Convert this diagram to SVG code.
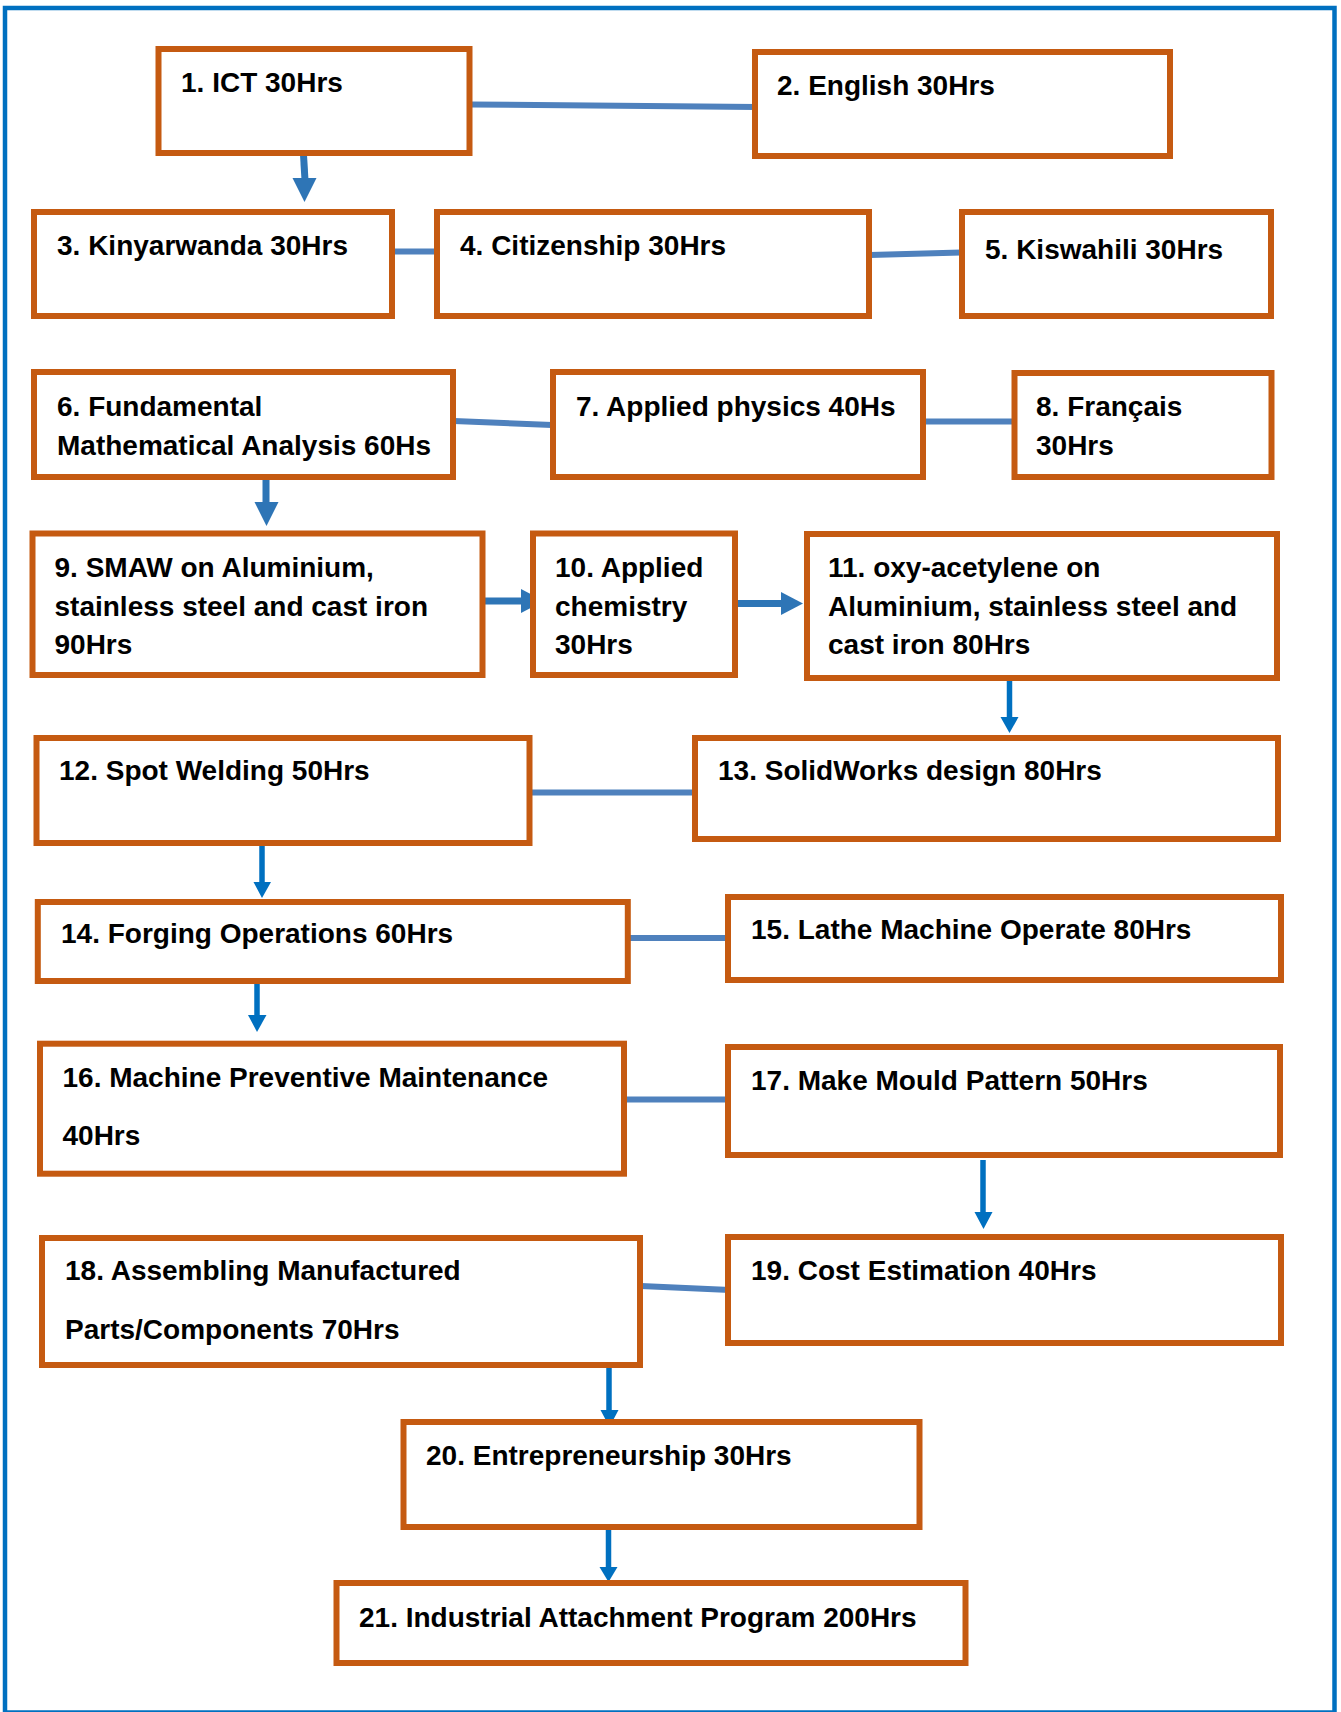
<svg xmlns="http://www.w3.org/2000/svg" width="1341" height="1712" viewBox="0 0 1341 1712">
<style>
.box{fill:#fff;stroke:#C55A11;stroke-width:6}
.t{font-family:"Liberation Sans",Arial,sans-serif;font-weight:bold;font-size:28px;fill:#000}
.ln{stroke:#4F81BD;stroke-width:6;fill:none}
.a1{stroke:#2E75B6;stroke-width:7;fill:none}
.h1{fill:#2E75B6}
.a2{stroke:#0070C0;stroke-width:5.5;fill:none}
.h2{fill:#0070C0}
</style>
<rect x="0" y="0" width="1341" height="1712" fill="#fff"/>
<rect x="5" y="8" width="1329.5" height="1704.5" fill="none" stroke="#0070C0" stroke-width="4.5"/>
<g id="connectors">
<line class="ln" x1="470" y1="104.5" x2="757" y2="107"/>
<line class="ln" x1="393" y1="251.5" x2="436" y2="251.5"/>
<line class="ln" x1="870" y1="255" x2="961" y2="252.5"/>
<line class="ln" x1="454" y1="421" x2="552" y2="425"/>
<line class="ln" x1="924" y1="421.5" x2="1013" y2="421.5"/>
<line class="ln" x1="530" y1="792.5" x2="694" y2="792.5"/>
<line class="ln" x1="629" y1="938" x2="727" y2="938"/>
<line class="ln" x1="625" y1="1099.5" x2="727" y2="1099.5"/>
<line class="ln" x1="641" y1="1286" x2="730" y2="1290"/>
<line class="a1" x1="303.5" y1="155" x2="305" y2="180"/>
<polygon class="h1" points="292.5,178 316.5,178 304.5,202"/>
<line class="a1" x1="266" y1="478" x2="266" y2="504"/>
<polygon class="h1" points="254.5,502 278.5,502 266.5,526"/>
<line class="a1" x1="484" y1="601" x2="525" y2="601"/>
<polygon class="h1" points="521,589 521,613 544,601"/>
<line class="a1" x1="736" y1="603.5" x2="783" y2="603.5"/>
<polygon class="h1" points="781,592 781,615 803,603.5"/>
<line class="a2" x1="1009.5" y1="679" x2="1009.5" y2="719"/>
<polygon class="h2" points="1000.5,717 1018.5,717 1009.5,733"/>
<line class="a2" x1="262" y1="844" x2="262" y2="884"/>
<polygon class="h2" points="253.5,882 271,882 262,898"/>
<line class="a2" x1="257" y1="982" x2="257" y2="1017"/>
<polygon class="h2" points="248,1015 266.5,1015 257,1032"/>
<line class="a2" x1="983" y1="1160" x2="983" y2="1214"/>
<polygon class="h2" points="974.5,1212 992.5,1212 983.5,1229"/>
<line class="a2" x1="609" y1="1366" x2="609" y2="1412"/>
<polygon class="h2" points="600.5,1410 618.5,1410 609.5,1427"/>
<line class="a2" x1="608.5" y1="1528" x2="608.5" y2="1569"/>
<polygon class="h2" points="599.5,1567 617.5,1567 608.5,1582"/>
</g>
<g id="n1"><rect class="box" x="158.5" y="49" width="311" height="104"/><text class="t" x="181" y="92">1. ICT 30Hrs</text></g>
<g id="n2"><rect class="box" x="755" y="52" width="415" height="104"/><text class="t" x="777" y="95">2. English 30Hrs</text></g>
<g id="n3"><rect class="box" x="34" y="212" width="358" height="104"/><text class="t" x="57" y="255">3. Kinyarwanda 30Hrs</text></g>
<g id="n4"><rect class="box" x="437" y="212" width="432" height="104"/><text class="t" x="460" y="255">4. Citizenship 30Hrs</text></g>
<g id="n5"><rect class="box" x="962" y="212" width="309" height="104"/><text class="t" x="985" y="259">5. Kiswahili 30Hrs</text></g>
<g id="n6"><rect class="box" x="34" y="372" width="419" height="105"/><text class="t" x="57" y="416">6. Fundamental</text><text class="t" x="57" y="455">Mathematical Analysis 60Hs</text></g>
<g id="n7"><rect class="box" x="553" y="372" width="370" height="105"/><text class="t" x="576" y="416">7. Applied physics 40Hs</text></g>
<g id="n8"><rect class="box" x="1014.5" y="373" width="257" height="104"/><text class="t" x="1036" y="416">8. Français</text><text class="t" x="1036" y="455">30Hrs</text></g>
<g id="n9"><rect class="box" x="32.5" y="533.5" width="450" height="141.5"/><text class="t" x="54.5" y="577">9. SMAW on Aluminium,</text><text class="t" x="54.5" y="616">stainless steel and cast iron</text><text class="t" x="54.5" y="654">90Hrs</text></g>
<g id="n10"><rect class="box" x="533" y="533.5" width="202" height="141.5"/><text class="t" x="555" y="577">10. Applied</text><text class="t" x="555" y="616">chemistry</text><text class="t" x="555" y="654">30Hrs</text></g>
<g id="n11"><rect class="box" x="807" y="534" width="470" height="144"/><text class="t" x="828" y="577">11. oxy-acetylene on</text><text class="t" x="828" y="616">Aluminium, stainless steel and</text><text class="t" x="828" y="654">cast iron 80Hrs</text></g>
<g id="n12"><rect class="box" x="36.5" y="738" width="493" height="105"/><text class="t" x="59" y="780">12. Spot Welding 50Hrs</text></g>
<g id="n13"><rect class="box" x="695" y="738" width="583" height="101"/><text class="t" x="718" y="780">13. SolidWorks design 80Hrs</text></g>
<g id="n14"><rect class="box" x="37.8" y="902" width="590" height="79"/><text class="t" x="61" y="943">14. Forging Operations 60Hrs</text></g>
<g id="n15"><rect class="box" x="728" y="897" width="553" height="83"/><text class="t" x="751" y="939">15. Lathe Machine Operate 80Hrs</text></g>
<g id="n16"><rect class="box" x="40" y="1043.7" width="584" height="130"/><text class="t" x="62.5" y="1087">16. Machine Preventive Maintenance</text><text class="t" x="62.5" y="1145">40Hrs</text></g>
<g id="n17"><rect class="box" x="728" y="1047" width="552" height="108"/><text class="t" x="751" y="1090">17. Make Mould Pattern 50Hrs</text></g>
<g id="n18"><rect class="box" x="42" y="1238" width="598" height="127"/><text class="t" x="65" y="1280">18. Assembling Manufactured</text><text class="t" x="65" y="1339">Parts/Components 70Hrs</text></g>
<g id="n19"><rect class="box" x="728" y="1237" width="553" height="106"/><text class="t" x="751" y="1280">19. Cost Estimation 40Hrs</text></g>
<g id="n20"><rect class="box" x="403.5" y="1422" width="516" height="105"/><text class="t" x="426" y="1465">20. Entrepreneurship 30Hrs</text></g>
<g id="n21"><rect class="box" x="336.5" y="1583" width="629" height="80"/><text class="t" x="359" y="1627">21. Industrial Attachment Program 200Hrs</text></g>
</svg>
